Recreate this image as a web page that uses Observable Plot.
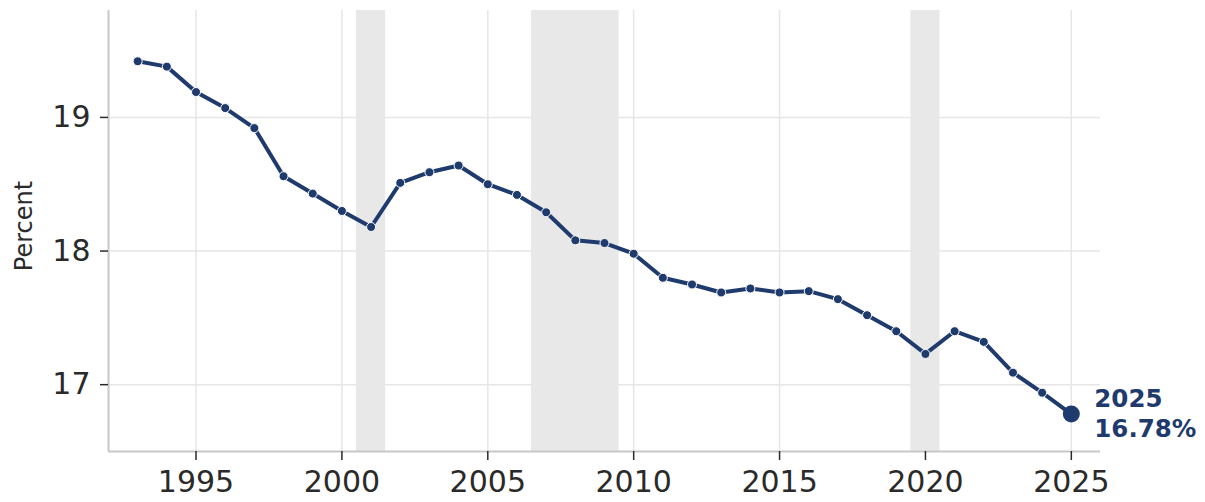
<!DOCTYPE html>
<html>
<head>
<meta charset="utf-8">
<script src="https://cdn.jsdelivr.net/npm/d3@7"></script>
<script src="https://cdn.jsdelivr.net/npm/@observablehq/plot@0.6"></script>
<style>
  html, body { margin: 0; padding: 0; background: #fff; }
  #chart svg { display: block; }
</style>
</head>
<body>
<div id="chart"></div>
<script>
const years = [1993,1994,1995,1996,1997,1998,1999,2000,2001,2002,2003,2004,2005,2006,2007,2008,2009,2010,2011,2012,2013,2014,2015,2016,2017,2018,2019,2020,2021,2022,2023,2024,2025];
const values = [19.42,19.38,19.19,19.07,18.92,18.56,18.43,18.30,18.18,18.51,18.59,18.64,18.50,18.42,18.29,18.08,18.06,17.98,17.80,17.75,17.69,17.72,17.69,17.70,17.64,17.52,17.40,17.23,17.40,17.32,17.09,16.94,16.78];
const recessionStart = [2000.5, 2006.5, 2019.5];
const recessionEnd = [2001.5, 2009.5, 2020.5];
const xTicks = [1995, 2000, 2005, 2010, 2015, 2020, 2025];
const yTicks = [17, 18, 19];
const yLabel = "Percent";

const navy = "#1f3a6c";
const data = years.map((year, i) => ({year, value: values[i]}));
const recessions = recessionStart.map((s, i) => ({start: s, end: recessionEnd[i]}));
const last = data[data.length - 1];
const lastLabel = `${last.year}\n${last.value.toFixed(2)}%`;

const chart = Plot.plot({
  width: 1205,
  height: 502,
  marginLeft: 108,
  marginRight: 105,
  marginTop: 10,
  marginBottom: 51,
  style: {fontFamily: "DejaVu Sans", background: "#fff", color: "#2a2a2a"},
  x: {domain: [1992, 2026]},
  y: {domain: [16.5, 19.8]},
  marks: [
    Plot.gridX(xTicks, {stroke: "#e6e6e6", strokeOpacity: 1, strokeWidth: 1.5}),
    Plot.gridY(yTicks, {stroke: "#e6e6e6", strokeOpacity: 1, strokeWidth: 1.5}),
    Plot.rectX(recessions, {x1: "start", x2: "end", fill: "#e8e8e8"}),
    Plot.ruleY([16.5], {stroke: "#c8c8c8", strokeWidth: 2}),
    Plot.ruleX([1992], {stroke: "#c8c8c8", strokeWidth: 2}),
    Plot.axisX(xTicks, {tickFormat: d => String(d), tickSize: 9, tickPadding: 10, fontSize: 30, label: null, stroke: "#2a2a2a", strokeWidth: 1.5}),
    Plot.axisY(yTicks, {tickFormat: d => String(d), tickSize: 8, tickPadding: 10, fontSize: 30, label: null, stroke: "#2a2a2a", strokeWidth: 1.5}),
    Plot.text([yLabel], {frameAnchor: "left", textAnchor: "middle", rotate: -90, dx: -84, dy: -5, fontSize: 24, fill: "#2a2a2a"}),
    Plot.line(data, {x: "year", y: "value", stroke: navy, strokeWidth: 4}),
    Plot.dot(data.slice(0, -1), {x: "year", y: "value", r: 4.5, fill: navy, stroke: "#fff", strokeWidth: 1}),
    Plot.dot([last], {x: "year", y: "value", r: 8.5, fill: navy}),
    Plot.text([last], {x: "year", y: "value", text: () => lastLabel, textAnchor: "start", lineAnchor: "middle", dx: 23, dy: -2, fontSize: 24.5, fontWeight: "bold", fill: navy, lineHeight: 1.22})
  ]
});
document.getElementById("chart").appendChild(chart);
</script>
</body>
</html>
